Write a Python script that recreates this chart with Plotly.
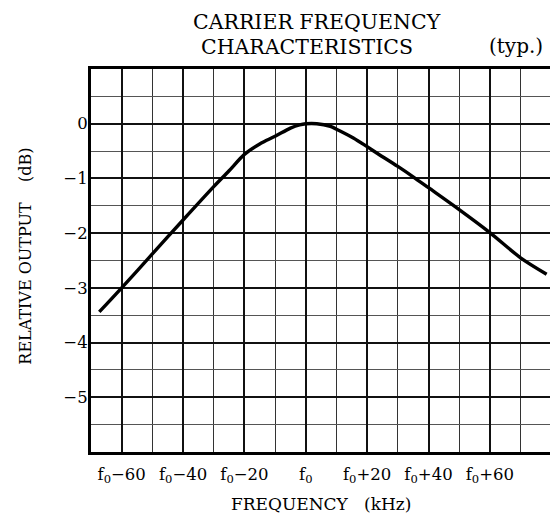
import plotly.graph_objects as go

# Curve data (offset from carrier f0 in kHz, relative output in dB)
freq_offset_khz = [-67.3, -60, -50, -40, -30, -25, -20, -15, -10, -5, -2, 0, 3.6, 8, 10,
                   15.5, 20, 23, 30, 35, 40, 50, 60, 70, 78.5]
relative_output_db = [-3.44, -3.0, -2.38, -1.76, -1.15, -0.86, -0.56, -0.37, -0.23, -0.08,
                      -0.02, 0.0, 0.0, -0.05, -0.10, -0.26, -0.42, -0.53, -0.78, -0.97, -1.17,
                      -1.57, -1.99, -2.45, -2.75]

x_tick_vals = [-60, -40, -20, 0, 20, 40, 60]
x_tick_text = ["f<sub>0</sub>\u221260", "f<sub>0</sub>\u221240", "f<sub>0</sub>\u221220",
               "f<sub>0</sub>", "f<sub>0</sub>+20", "f<sub>0</sub>+40", "f<sub>0</sub>+60"]
y_tick_vals = [-5, -4, -3, -2, -1, 0]
y_tick_text = ["\u22125", "\u22124", "\u22123", "\u22122", "\u22121", "0"]

FONT = "DejaVu Serif"
NB = "\u00a0"

fig = go.Figure()
fig.add_trace(go.Scatter(
    x=freq_offset_khz, y=relative_output_db, mode="lines",
    line=dict(color="black", width=3.4, shape="spline", smoothing=0.8),
    hoverinfo="skip", showlegend=False,
))

fig.update_layout(
    width=550, height=518,
    margin=dict(l=91, r=0, t=69, b=66),
    paper_bgcolor="white", plot_bgcolor="white",
    font=dict(family=FONT, color="black"),
    xaxis=dict(
        range=[-70, 79.6], tickvals=x_tick_vals, ticktext=x_tick_text,
        showgrid=True, gridcolor="#111111", gridwidth=1.5,
        minor=dict(tick0=-70, dtick=10, showgrid=True, gridcolor="#333333", gridwidth=1.3),
        showline=True, linecolor="black", linewidth=3, mirror=True,
        ticks="", tickfont=dict(size=16.5, family=FONT), zeroline=False,
        ticklabelstandoff=5, fixedrange=True,
    ),
    yaxis=dict(
        range=[-6, 1], tickvals=y_tick_vals, ticktext=y_tick_text,
        showgrid=True, gridcolor="#111111", gridwidth=1.6,
        minor=dict(tick0=0, dtick=0.5, showgrid=True, gridcolor="#555555", gridwidth=1.3),
        showline=True, linecolor="black", linewidth=3,
        ticks="", tickfont=dict(size=16.5, family=FONT), zeroline=False,
        ticklabelstandoff=-3, fixedrange=True,
    ),
    annotations=[
        dict(text="CARRIER FREQUENCY", xref="paper", yref="paper", x=0.492, y=1.122,
             showarrow=False, font=dict(size=20.5, family=FONT), xanchor="center", yanchor="middle",
             borderpad=0),
        dict(text="CHARACTERISTICS", xref="paper", yref="paper", x=0.470, y=1.058,
             showarrow=False, font=dict(size=20.5, family=FONT), xanchor="center", yanchor="middle",
             borderpad=0),
        dict(text="(typ.)", xref="paper", yref="paper", x=0.926, y=1.060,
             showarrow=False, font=dict(size=20, family=FONT), xanchor="center", yanchor="middle",
             borderpad=0),
        dict(text="RELATIVE OUTPUT" + NB * 4 + "(dB)", xref="paper", yref="paper",
             x=-0.143, y=0.511, textangle=-90, showarrow=False,
             font=dict(size=16, family=FONT), xanchor="center", yanchor="middle"),
        dict(text="FREQUENCY" + NB * 3 + "(kHz)", xref="paper", yref="paper",
             x=0.501, y=-0.137, showarrow=False,
             font=dict(size=17, family=FONT), xanchor="center", yanchor="middle"),
    ],
)

fig.write_html("out.html", config={"displayModeBar": False},
               post_script="document.body.style.margin='0';document.body.style.overflow='hidden';")
